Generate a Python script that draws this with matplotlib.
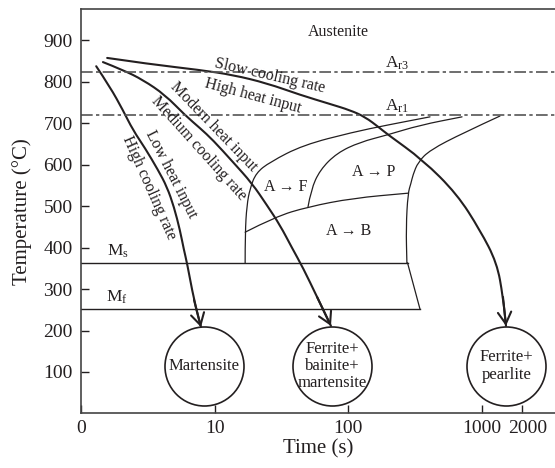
import numpy as np
import matplotlib
matplotlib.use('Agg')
import matplotlib.pyplot as plt
from matplotlib.path import Path
from matplotlib.patches import PathPatch
from matplotlib.transforms import ScaledTranslation

plt.rcParams['font.family'] = ['Liberation Serif', 'DejaVu Serif']
plt.rcParams['mathtext.fontset'] = 'custom'
plt.rcParams['mathtext.rm'] = 'Liberation Serif'
plt.rcParams['mathtext.it'] = 'Liberation Serif:italic'

INK = '#231f20'

# cooling curves: time (s), temperature (C)
fast_t = [1.30, 1.65, 2.06, 2.45, 3.01, 3.77, 4.40, 4.96, 5.50, 5.89, 6.21, 7.00, 7.90]
fast_T = [837, 787, 731, 683, 640, 587, 546, 498, 442, 394, 363, 274, 208]

medium_t = [1.46, 2.06, 2.91, 4.25, 6.00, 7.76, 9.71, 13.7, 19.0, 24.6, 30.8, 37.9, 45.8, 58.3, 74.1]
medium_T = [847, 828, 804, 768, 719, 688, 659, 606, 555, 502, 454, 399, 351, 281, 211]

slow_t = [1.57, 3.28, 7.76, 13.7, 24.6, 43.5, 72.9, 103, 133, 172, 194, 361, 649, 965, 1292, 1433, 1510]
slow_T = [857, 842, 828, 816, 796, 768, 746, 731, 715, 688, 674, 611, 529, 442, 363, 281, 211]

# transformation boundaries
ferrite_t = [16.9, 16.9, 17.4, 18.4, 20.4, 25.9, 45.8, 108, 194, 408]
ferrite_T = [363, 435, 502, 543, 580, 606, 647, 678, 695, 715]

pearlite_t = [49.9, 52.5, 61.3, 82.2, 122, 194, 343, 708]
pearlite_T = [498, 539, 587, 628, 654, 671, 695, 715]

finish_t = [1361, 720, 408, 332, 304, 294, 279, 270, 274]
finish_T = [717, 676, 635, 606, 575, 555, 531, 449, 363]

bainite_t = [16.9, 28.3, 49.9, 108, 279]
bainite_T = [437, 474, 498, 519, 531]

Ar3, Ar1 = 822, 719
Ms, Ms_end = 363, 277
Mf, Mf_end = 252, 343

# resulting microstructures
circle_t = [8.32, 75.4, 1522]
circle_T = [114.5, 114.5, 114.5]
circle_text = ['Martensite', 'Ferrite+\nbainite+\nmartensite', 'Ferrite+\npearlite']

xticks = [1, 10, 100, 1000, 2000]
xtick_labels = ['0', '10', '100', '1000', '2000']
yticks = [100, 200, 300, 400, 500, 600, 700, 800, 900]


def smooth_curve(ax, t, T, **kw):
    # quadratic bezier through the segment midpoints (log-space in time)
    verts = [(t[0], T[0])]
    codes = [Path.MOVETO]
    for i in range(1, len(t) - 1):
        mid = (np.sqrt(t[i] * t[i + 1]), (T[i] + T[i + 1]) / 2)
        verts += [(t[i], T[i]), mid]
        codes += [Path.CURVE3, Path.CURVE3]
    verts.append((t[-1], T[-1]))
    codes.append(Path.LINETO)
    ax.add_patch(PathPatch(Path(verts, codes), fill=False, edgecolor=INK,
                           joinstyle='round', capstyle='round', **kw))


fig = plt.figure(figsize=(5.55, 4.68), dpi=100)
ax = fig.add_axes([0.1459, 0.1165, 0.8541, 0.8643])
ax.set_xscale('log')
ax.set_xlim(1, 3511)
ax.set_ylim(0, 975)

# critical temperatures
for T in (Ar3, Ar1):
    ax.axhline(T, color='#555555', lw=1.2, dashes=(7, 2, 2, 2))

ax.plot([1, Ms_end], [Ms, Ms], color=INK, lw=1.0)
ax.plot([1, Mf_end], [Mf, Mf], color=INK, lw=1.0)
ax.plot([Ms_end, Mf_end], [Ms, Mf], color=INK, lw=0.9)

for t, T in [(ferrite_t, ferrite_T), (pearlite_t, pearlite_T),
             (finish_t, finish_T), (bainite_t, bainite_T)]:
    smooth_curve(ax, t, T, lw=0.9)

for t, T in [(fast_t, fast_T), (medium_t, medium_T), (slow_t, slow_T)]:
    smooth_curve(ax, t, T, lw=1.5)
    ax.annotate('', xy=(t[-1], T[-1]), xytext=(t[-2], T[-2]),
                arrowprops=dict(arrowstyle='->, head_length=0.7, head_width=0.4',
                                color=INK, lw=1.5, shrinkA=0, shrinkB=0,
                                mutation_scale=12))

ax.scatter(circle_t, circle_T, s=3236, facecolors='white', edgecolors=INK,
           linewidths=1.2, zorder=3)
for t, T, s in zip(circle_t, circle_T, circle_text):
    ax.text(t, T, s, ha='center', va='center', fontsize=12, color=INK,
            linespacing=1.1, zorder=4)

ax.text(83.6, 919, 'Austenite', ha='center', va='center', fontsize=11.5, color=INK)
ax.text(231, 845, r'A$_{\mathrm{r3}}$', ha='center', va='center', fontsize=12.5, color=INK)
ax.text(231, 741, r'A$_{\mathrm{r1}}$', ha='center', va='center', fontsize=12.5, color=INK)
ax.text(1.89, 392, r'M$_{\mathrm{s}}$', ha='center', va='center', fontsize=12.5, color=INK)
ax.text(1.86, 281, r'M$_{\mathrm{f}}$', ha='center', va='center', fontsize=12.5, color=INK)
ax.text(34.1, 546, 'A → F', ha='center', va='center', fontsize=11.5, color=INK)
ax.text(155, 582, 'A → P', ha='center', va='center', fontsize=11.5, color=INK)
ax.text(101, 440, 'A → B', ha='center', va='center', fontsize=11.5, color=INK)

curve_labels = [
    ('Slow cooling rate', 25.9, 813, -13),
    ('High heat input', 19.3, 766, -15),
    ('Modern heat input', 9.9, 690, -46),
    ('Medium cooling rate', 7.6, 640, -48),
    ('Low heat input', 4.75, 577, -63),
    ('High cooling rate', 3.25, 545, -66),
]
for s, t, T, rot in curve_labels:
    ax.text(t, T, s, ha='center', va='center', rotation=rot,
            rotation_mode='anchor', fontsize=11.5, color=INK)

ax.set_xticks(xticks)
ax.set_xticklabels(xtick_labels)
ax.minorticks_off()
ax.set_yticks(yticks)
ax.tick_params(direction='in', length=6, width=1.0, labelsize=14,
               colors=INK, pad=6)
ax.tick_params(axis='x', pad=5)

# nudge the 2000 label right so it clears 1000
lbl = ax.get_xticklabels()[4]
lbl.set_transform(lbl.get_transform() + ScaledTranslation(4 / 72, 0, fig.dpi_scale_trans))

ax.spines['right'].set_visible(False)
for side in ('left', 'bottom', 'top'):
    ax.spines[side].set_linewidth(1.2)
    ax.spines[side].set_color('#444444')

ax.set_xlabel('Time (s)', fontsize=15, color=INK, labelpad=1)
ax.set_ylabel('Temperature (°C)', fontsize=15, color=INK, labelpad=8)

fig.savefig('out.png', dpi=100)
